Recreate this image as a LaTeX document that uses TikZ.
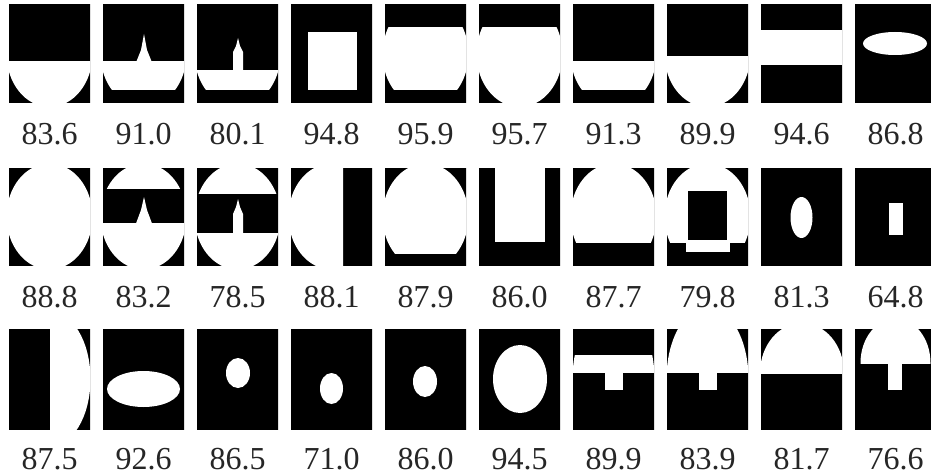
\documentclass[tikz,border=0pt]{standalone}
\usepackage{fontspec}
\setmainfont{Liberation Serif}
\newcommand\tilestart[3]{\begin{scope}\clip (#1,#2) rectangle (#1+81,#2+#3);\fill[tilebg] (#1-1,#2-1) rectangle (#1+82,#2+#3+1);}
\newcommand\tileend{\end{scope}}
% cx cy a b ytop ybottom
\newcommand\ellband[6]{\begin{scope}\clip (#1-60,#5) rectangle (#1+60,#6);\fill[wshape] (#1,#2) ellipse [x radius=#3, y radius=#4];\end{scope}}
\begin{document}
\begin{tikzpicture}[x=1pt,y=-1pt,
  tilebg/.style={fill=black},
  wshape/.style={fill=white},
  lab/.style={anchor=base, inner sep=0pt, font=\fontsize{32}{38}\selectfont, text=black!85}]
\useasboundingbox[fill=white] (0,0) rectangle (931,476);
% ---------------- Row 1 (y 5..103, cy 54)
\tilestart{9}{5}{98} \ellband{49.5}{54}{43}{53}{62}{103} \tileend
\tilestart{103}{5}{98} \ellband{143.5}{54}{43}{53}{62}{90}
  \fill[wshape] (136,62.5) -- (141,50) -- (144,34) -- (147,50) -- (152,62.5) -- cycle; \tileend
\tilestart{197}{5}{98} \ellband{237.5}{54}{43}{53}{71}{90}
  \fill[wshape] (233,71.5) -- (233,52) -- (236,46) -- (238,38) -- (240,46) -- (243,52) -- (243,71.5) -- cycle; \tileend
\tilestart{291}{5}{98} \fill[wshape] (308,32) rectangle (357,90); \tileend
\tilestart{385}{5}{98} \ellband{425.5}{54}{43}{53}{28}{90} \tileend
\tilestart{479}{5}{98} \ellband{519.5}{54}{43}{53}{28}{103} \tileend
\tilestart{573}{5}{98} \ellband{613.5}{54}{43}{53}{62}{90} \tileend
\tilestart{667}{5}{98} \ellband{707.5}{54}{43}{53}{57}{103} \tileend
\tilestart{761}{5}{98} \fill[wshape] (755,30) rectangle (848,65); \tileend
\tilestart{855}{5}{98} \fill[wshape] (895,43.5) ellipse [x radius=32, y radius=11.5]; \tileend
% ---------------- Row 2 (y 168..265, cy 216.5)
\tilestart{9}{168}{97} \ellband{49.5}{216.5}{43}{53}{160}{270} \tileend
\tilestart{103}{168}{97} \ellband{143.5}{216.5}{43}{53}{160}{188} \ellband{143.5}{216.5}{43}{53}{223}{270}
  \fill[wshape] (136,223.5) -- (141,210) -- (144,197) -- (147,210) -- (152,223.5) -- cycle; \tileend
\tilestart{197}{168}{97} \ellband{237.5}{216.5}{43}{53}{160}{193} \ellband{237.5}{216.5}{43}{53}{233}{270}
  \fill[wshape] (233,233.5) -- (233,214) -- (236,207) -- (238,199) -- (240,207) -- (243,214) -- (243,233.5) -- cycle; \tileend
\tilestart{291}{168}{97} \begin{scope}\clip (280,160) rectangle (343,270); \fill[wshape] (331.5,216.5) ellipse [x radius=43, y radius=53]; \end{scope} \tileend
\tilestart{385}{168}{97} \ellband{425.5}{216.5}{43}{53}{160}{253} \tileend
\tilestart{479}{168}{97} \fill[wshape] (495,160) rectangle (545,242); \tileend
\tilestart{573}{168}{97} \ellband{613.5}{216.5}{43}{53}{160}{242} \tileend
\tilestart{667}{168}{97} \ellband{707.5}{216.5}{43}{53}{160}{242}
  \fill[wshape] (686,236) rectangle (730,252);
  \fill[tilebg] (688,191) rectangle (727,240); \tileend
\tilestart{761}{168}{97} \fill[wshape] (801.5,217.5) ellipse [x radius=11, y radius=20.5]; \tileend
\tilestart{855}{168}{97} \fill[wshape] (889,203) rectangle (903,235); \tileend
% ---------------- Row 3 (y 329..429, cy 379)
\tilestart{9}{329}{100} \begin{scope}\clip (50,320) rectangle (100,440); \fill[wshape] (49.5,379) ellipse [x radius=41, y radius=68]; \end{scope} \tileend
\tilestart{103}{329}{100} \fill[wshape] (143.5,389) ellipse [x radius=36.5, y radius=18]; \tileend
\tilestart{197}{329}{100} \fill[wshape] (238,373) ellipse [x radius=12, y radius=15]; \tileend
\tilestart{291}{329}{100} \fill[wshape] (331.5,388.5) ellipse [x radius=11.5, y radius=15.5]; \tileend
\tilestart{385}{329}{100} \fill[wshape] (425,381.5) ellipse [x radius=12, y radius=15.5]; \tileend
\tilestart{479}{329}{100} \fill[wshape] (520,379) ellipse [x radius=27, y radius=34]; \tileend
\tilestart{573}{329}{100} \ellband{613.5}{379}{41}{72}{355}{372}
  \fill[wshape] (605,370) rectangle (623,390); \tileend
\tilestart{667}{329}{100} \ellband{707.5}{379}{41}{72}{320}{372}
  \fill[wshape] (699,370) rectangle (717,390); \tileend
\tilestart{761}{329}{100} \ellband{802}{373}{42}{50}{320}{373} \tileend
\tilestart{855}{329}{100} \ellband{895.5}{363}{35}{44.5}{320}{363}
  \fill[wshape] (888,361) rectangle (902,390); \tileend
% ---------------- Labels
\foreach \t [count=\i] in {83.6,91.0,80.1,94.8,95.9,95.7,91.3,89.9,94.6,86.8}
  \node[lab] (ra\i) at ({49.5+94*(\i-1)},145) {\t};
\foreach \t [count=\i] in {88.8,83.2,78.5,88.1,87.9,86.0,87.7,79.8,81.3,64.8}
  \node[lab] (rb\i) at ({49.5+94*(\i-1)},307) {\t};
\foreach \t [count=\i] in {87.5,92.6,86.5,71.0,86.0,94.5,89.9,83.9,81.7,76.6}
  \node[lab] (rc\i) at ({49.5+94*(\i-1)},469) {\t};
\end{tikzpicture}
\end{document}
